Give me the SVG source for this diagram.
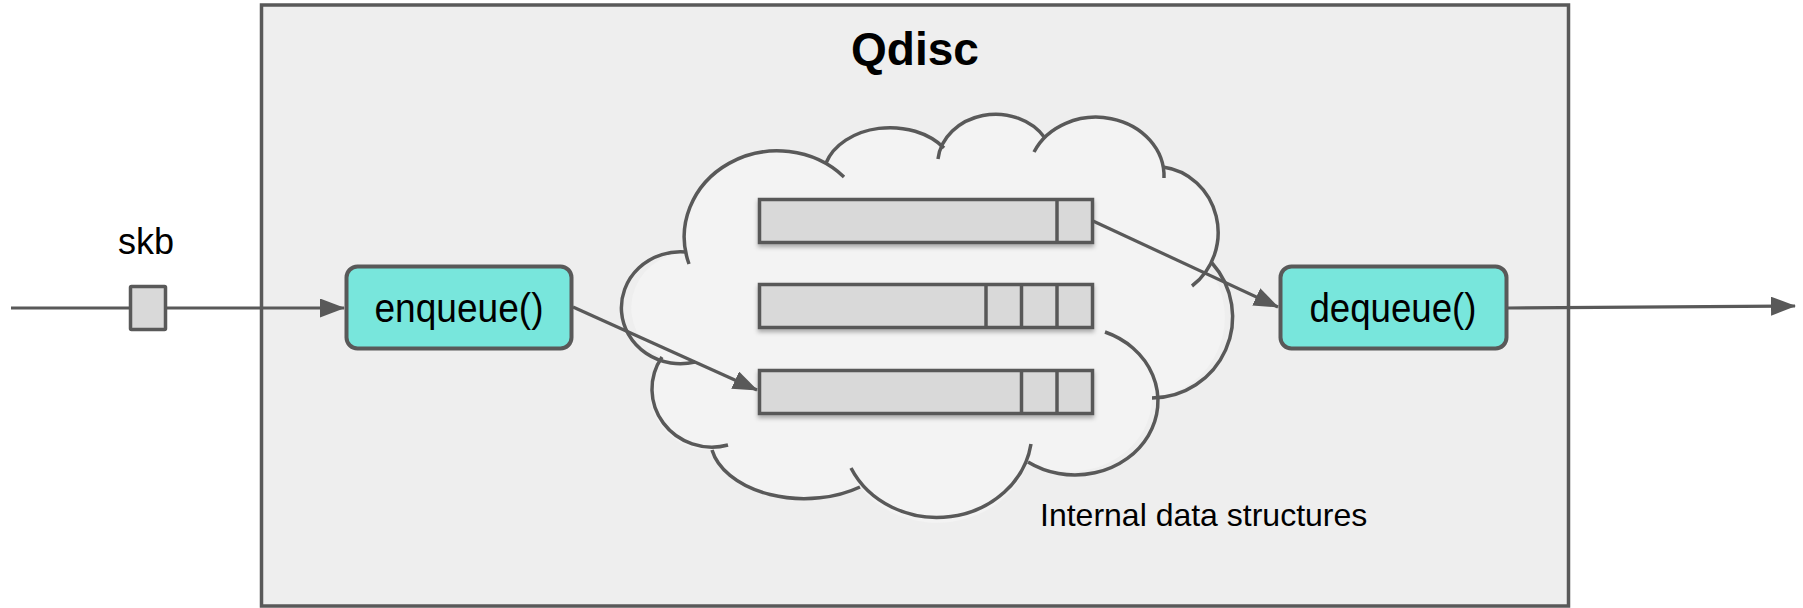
<svg xmlns="http://www.w3.org/2000/svg" width="1803" height="608" viewBox="0 0 1803 608">
  <defs>
    <style>
      .frame { fill: #eeeeee; stroke: #595959; stroke-width: 3.5; }
      .func { fill: #78e6dc; stroke: #595959; stroke-width: 4; }
      .cell { fill: #d9d9d9; stroke: #595959; stroke-width: 3.5; }
      .div { stroke: #595959; stroke-width: 3.5; }
      .arc { fill: none; stroke: #595959; stroke-width: 3.5; }
      .wire { fill: none; stroke: #595959; stroke-width: 3.2; }
      .lbl { font-family: "Liberation Sans", Arial, sans-serif; fill: #000000; }
    </style>
    <marker id="arrow" markerUnits="userSpaceOnUse" markerWidth="25" markerHeight="19" viewBox="0 0 25 19" refX="24" refY="9.5" orient="auto">
      <path d="M0,0 L25,9.5 L0,19 Z" fill="#595959"/>
    </marker>
    <filter id="shadow" x="-5%" y="-20%" width="110%" height="160%">
      <feDropShadow dx="0" dy="3" stdDeviation="2" flood-color="#000000" flood-opacity="0.3"/>
    </filter>
  </defs>

  <!-- Qdisc container -->
  <g id="qdisc">
    <rect class="frame" x="261.5" y="5" width="1307" height="601"/>
    <text class="lbl" x="915" y="65" font-size="46" font-weight="bold" text-anchor="middle">Qdisc</text>
  </g>

  <!-- cloud holding the internal queues -->
  <g id="cloud">
    <path fill="#f3f3f3" d="M686,252 A93,86 0 0 1 826,163 A67,50 0 0 1 943,148 A58,50 0 0 1 1045,138 A68,59 0 0 1 1163,167 A63,66 0 0 1 1208,268 A81,81 0 0 1 1152,398 A83,74 0 0 1 1028,462 A95,86 0 0 1 860,487 A94,60 0 0 1 712,450 A60,58 0 0 1 662,357 A59,56 0 0 1 686,252 Z"/>
    <path class="arc" d="M695,362 A59,56 0 1 1 686,252"/>
    <path class="arc" d="M689,264 A93,86 0 0 1 844,177"/>
    <path class="arc" d="M826,163 A67,50 0 0 1 944,148"/>
    <path class="arc" d="M938,159 A58,50 0 0 1 1045,138"/>
    <path class="arc" d="M1034,152 A68,59 0 0 1 1164,178"/>
    <path class="arc" d="M1163,167 A63,66 0 0 1 1192,286"/>
    <path class="arc" d="M1212,263 A81,81 0 0 1 1152,398"/>
    <path class="arc" d="M1105,332 A83,74 0 1 1 1028,462"/>
    <path class="arc" d="M1031,444 A95,86 0 0 1 851,468"/>
    <path class="arc" d="M860,487 A94,60 0 0 1 712,450"/>
    <path class="arc" d="M728,445 A60,58 0 0 1 662,357"/>
  </g>

  <!-- queues -->
  <g id="queue1" filter="url(#shadow)">
    <rect class="cell" x="759.5" y="199.5" width="333" height="43"/>
    <line class="div" x1="1057" y1="199.5" x2="1057" y2="242.5"/>
  </g>
  <g id="queue2" filter="url(#shadow)">
    <rect class="cell" x="759.5" y="284.5" width="333" height="43"/>
    <line class="div" x1="986" y1="284.5" x2="986" y2="327.5"/>
    <line class="div" x1="1021.5" y1="284.5" x2="1021.5" y2="327.5"/>
    <line class="div" x1="1057" y1="284.5" x2="1057" y2="327.5"/>
  </g>
  <g id="queue3" filter="url(#shadow)">
    <rect class="cell" x="759.5" y="370.5" width="333" height="43"/>
    <line class="div" x1="1021.5" y1="370.5" x2="1021.5" y2="413.5"/>
    <line class="div" x1="1057" y1="370.5" x2="1057" y2="413.5"/>
  </g>

  <!-- connectors -->
  <g id="connectors">
    <path class="wire" d="M11,308 L344,308" marker-end="url(#arrow)"/>
    <path class="wire" d="M573,307 L757,390" marker-end="url(#arrow)"/>
    <path class="wire" d="M1093,221 L1278,307" marker-end="url(#arrow)"/>
    <path class="wire" d="M1508,308 L1795,306" marker-end="url(#arrow)"/>
  </g>

  <!-- packet on the input wire -->
  <g id="skb">
    <rect class="cell" x="130.5" y="286.5" width="35" height="43" rx="1"/>
    <text class="lbl" x="146" y="254" font-size="36" text-anchor="middle">skb</text>
  </g>

  <g id="enqueue">
    <rect class="func" x="346.5" y="266.5" width="225" height="82" rx="11"/>
    <text class="lbl" x="459" y="322" font-size="40" text-anchor="middle" textLength="169" lengthAdjust="spacingAndGlyphs">enqueue()</text>
  </g>

  <g id="dequeue">
    <rect class="func" x="1280.5" y="266.5" width="226" height="82" rx="11"/>
    <text class="lbl" x="1393" y="322" font-size="40" text-anchor="middle" textLength="167" lengthAdjust="spacingAndGlyphs">dequeue()</text>
  </g>

  <g id="caption">
    <text class="lbl" x="1040" y="526" font-size="32">Internal data structures</text>
  </g>
</svg>
